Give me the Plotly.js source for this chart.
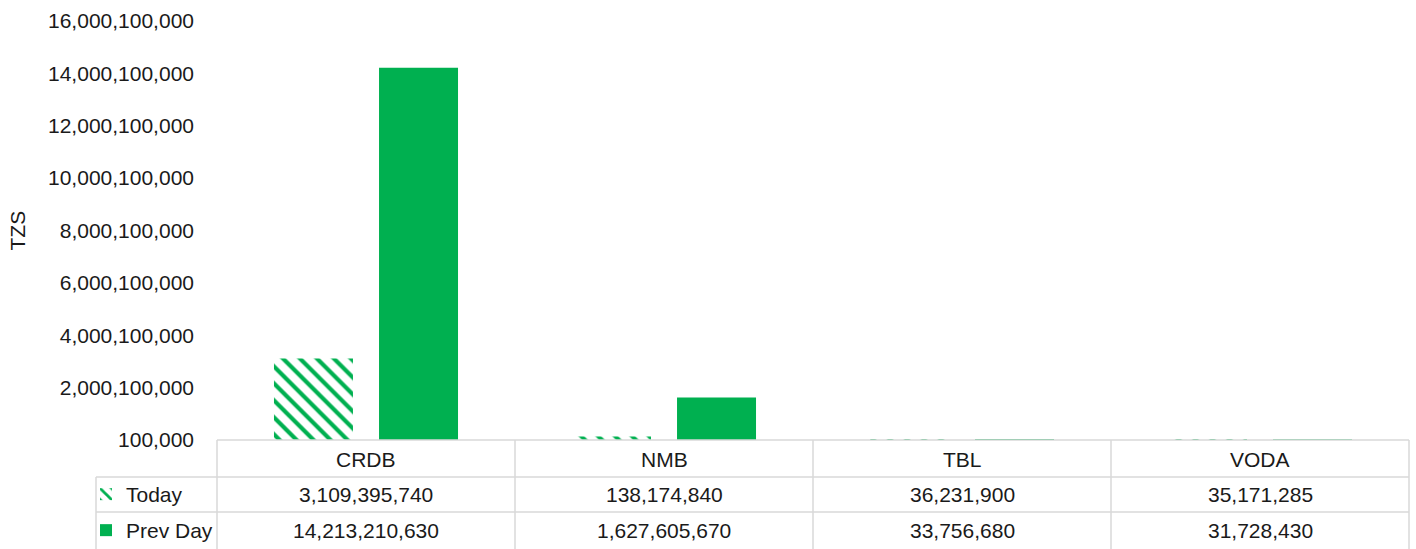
<!DOCTYPE html>
<html>
<head>
<meta charset="utf-8">
<script src="https://cdn.plot.ly/plotly-3.0.1.min.js"></script>
<style>html,body{margin:0;padding:0;background:#fff;}#chart{width:1416px;height:549px;}</style>
</head>
<body>
<div id="chart"></div>
<script>
const categories = ["CRDB", "NMB", "TBL", "VODA"];
const todayValues = [3109395740, 138174840, 36231900, 35171285];
const prevDayValues = [14213210630, 1627605670, 33756680, 31728430];
const seriesNames = ["Today", "Prev Day"];
const yTickValues = [100000, 2000100000, 4000100000, 6000100000, 8000100000, 10000100000, 12000100000, 14000100000, 16000100000];

const GREEN = '#00B050';
const GRID = '#d9d9d9';
const TXT = '#1a1a1a';
const FONT = 'Liberation Sans, Arial, sans-serif';

// plot area in pixels
const L = 217, R = 1409, T = 21, B = 440;
const W = R - L, H = B - T;
const px = x => (x - L) / W;
const py = y => (B - y) / H;

const fmt = v => v.toLocaleString('en-US');

const traces = [
  {
    type: 'bar', x: categories, y: todayValues, name: seriesNames[0],
    marker: {color: GREEN, pattern: {shape: '\\', fgcolor: GREEN, bgcolor: '#ffffff', size: 12, solidity: 0.35}},
    legend: 'legend', hoverinfo: 'x+y'
  },
  {
    type: 'bar', x: categories, y: prevDayValues, name: seriesNames[1],
    marker: {color: GREEN},
    legend: 'legend2', hoverinfo: 'x+y'
  }
];

const shapes = [];
const line = (x0, y0, x1, y1) => shapes.push({type: 'line', xref: 'paper', yref: 'paper',
  x0: px(x0), y0: py(y0), x1: px(x1), y1: py(y1), line: {color: GRID, width: 1.5}});
line(L, B, R, B);
line(96, 477, R, 477);
line(96, 512, R, 512);
line(96, 477, 96, 549);
[L, 515, 813, 1111, R].forEach(x => line(x, B, x, 549));

const annotations = [];
categories.forEach((c, i) => {
  annotations.push({x: c, xref: 'x', y: py(459), yref: 'paper', text: c, showarrow: false,
    font: {family: FONT, size: 21, color: TXT}, yanchor: 'middle'});
  annotations.push({x: c, xref: 'x', y: py(494.5), yref: 'paper', text: fmt(todayValues[i]), showarrow: false,
    font: {family: FONT, size: 21, color: TXT}, yanchor: 'middle'});
  annotations.push({x: c, xref: 'x', y: py(530.5), yref: 'paper', text: fmt(prevDayValues[i]), showarrow: false,
    font: {family: FONT, size: 21, color: TXT}, yanchor: 'middle'});
});
annotations.push({x: px(17), xref: 'paper', y: 0.5, yref: 'paper', text: 'TZS', textangle: -90,
  showarrow: false, font: {family: FONT, size: 21, color: TXT}, xanchor: 'center', yanchor: 'middle'});

const legendCommon = {orientation: 'v', xanchor: 'left', yanchor: 'middle', bgcolor: 'rgba(0,0,0,0)',
  font: {family: FONT, size: 21, color: TXT}, itemwidth: 30, borderwidth: 0, tracegroupgap: 0};

const layout = {
  width: 1416, height: 549,
  margin: {l: L, r: 1416 - R, t: T, b: 549 - B, pad: 0, autoexpand: false},
  paper_bgcolor: '#ffffff', plot_bgcolor: '#ffffff',
  barmode: 'group', bargap: 0.295, bargroupgap: 0.248,
  font: {family: FONT, size: 21, color: TXT},
  xaxis: {type: 'category', range: [-0.5, 3.5], showticklabels: false, ticks: '', showgrid: false, zeroline: false, showline: false, fixedrange: true, automargin: false},
  yaxis: {range: [100000, 16000100000], tickvals: yTickValues, tickformat: ',d', ticks: '', showgrid: false, zeroline: false, showline: false,
    ticklabelstandoff: 22, tickfont: {family: FONT, size: 21, color: TXT}, fixedrange: true, automargin: false},
  showlegend: true,
  legend: Object.assign({}, legendCommon, {x: px(86), y: py(494.5)}),
  legend2: Object.assign({}, legendCommon, {x: px(86), y: py(530.5)}),
  shapes: shapes,
  annotations: annotations
};

Plotly.newPlot('chart', traces, layout, {displayModeBar: false, staticPlot: true});
</script>
</body>
</html>
